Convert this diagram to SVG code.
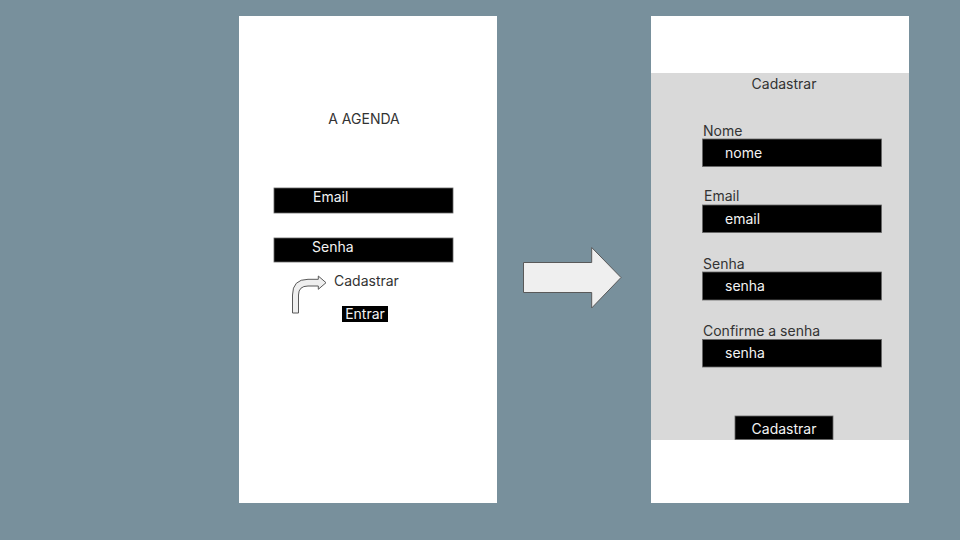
<svg xmlns="http://www.w3.org/2000/svg" width="960" height="540" viewBox="0 0 960 540">
<style>
text{font-family:Inter,"Noto Sans","Liberation Sans",sans-serif;}
.lbl{fill:#333333;font-size:14px;}
.in{fill:#f3f3f3;font-size:14px;}
.box{fill:#000000;stroke:#666666;stroke-width:0.8;}
.arrow{fill:#efefef;stroke:#595959;stroke-width:1;}
</style>
<rect x="0" y="0" width="960" height="540" fill="#78909c"/>
<g id="login-screen">
<rect x="239" y="16" width="258" height="487" fill="#ffffff"/>
<text class="lbl" x="364" y="123.5" text-anchor="middle" font-size="13.5">A AGENDA</text>
<rect class="box" x="274" y="188" width="179" height="25"/>
<text class="in" x="313" y="202">Email</text>
<rect class="box" x="274" y="238" width="179" height="24"/>
<text class="in" x="312" y="252">Senha</text>
<path class="arrow" d="M292.5,313 L292.5,295 Q292.5,279.3 308,279.3 L318.3,279.3 L318.3,276 L326,282.7 L318.3,289.3 L318.3,286 L308,286 Q298.5,286 298.5,295 L298.5,313 Z" stroke-width="0.8"/>
<text class="lbl" x="334" y="285.5">Cadastrar</text>
<rect x="342" y="306" width="46" height="16" fill="#000000"/>
<text class="in" x="365" y="319" text-anchor="middle" font-size="13.5">Entrar</text>
</g>
<g id="connectors">
<path class="arrow" d="M523.5,262.5 L591.7,262.5 L591.7,247.5 L621,277.5 L591.7,308 L591.7,292.5 L523.5,292.5 Z"/>
</g>
<g id="register-screen">
<rect x="651" y="16" width="258" height="487" fill="#ffffff"/>
<rect x="651" y="73" width="258" height="367" fill="#d9d9d9"/>
<text class="lbl" x="784" y="88.5" text-anchor="middle">Cadastrar</text>
<text class="lbl" x="703" y="135.5">Nome</text>
<rect class="box" x="702.5" y="139" width="179" height="27.5"/>
<text class="in" x="725" y="158">nome</text>
<text class="lbl" x="704" y="201">Email</text>
<rect class="box" x="702.5" y="205" width="179" height="27.5"/>
<text class="in" x="725" y="224">email</text>
<text class="lbl" x="703" y="268.5">Senha</text>
<rect class="box" x="702.5" y="272" width="179" height="28"/>
<text class="in" x="725" y="291">senha</text>
<text class="lbl" x="703" y="335.5">Confirme a senha</text>
<rect class="box" x="702.5" y="339.5" width="179" height="27.5"/>
<text class="in" x="725" y="358">senha</text>
<rect class="box" x="735" y="416" width="98" height="23.5"/>
<text class="in" x="784" y="433.5" text-anchor="middle">Cadastrar</text>
</g>
</svg>
